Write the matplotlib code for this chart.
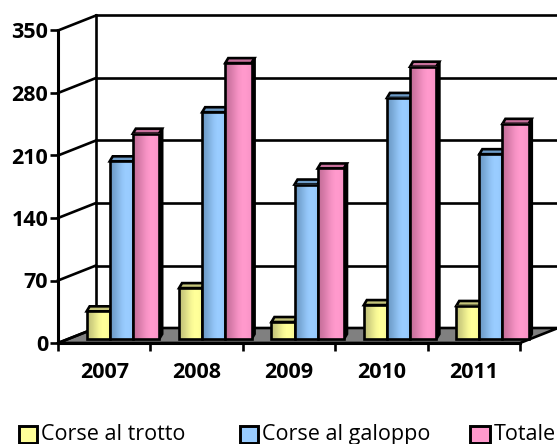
import numpy as np
import matplotlib
matplotlib.use("Agg")
import matplotlib.pyplot as plt
from matplotlib.colors import LinearSegmentedColormap
from matplotlib.patches import Polygon, Rectangle
from matplotlib.transforms import Affine2D

years = ["2007", "2008", "2009", "2010", "2011"]
trotto = [31, 57, 19, 38, 37]
galoppo = [199, 254, 173, 270, 207]
totale = [230, 309, 191, 305, 241]
series_names = ["Corse al trotto", "Corse al galoppo", "Totale"]
yticks = [0, 70, 140, 210, 280, 350]

W, H = 557, 444
FONT = "Open Sans"
LW = 1.9
dark = ["#C4C47A", "#6E9CC8", "#C8709C"]
light = ["#FFFF99", "#99CCFF", "#FF99CC"]

fig = plt.figure(figsize=(W / 100, H / 100), dpi=100, facecolor="white")
X0, X1, Y0, Y1 = 58, 520, 343, 30.5
ax = fig.add_axes([X0 / W, 1 - Y0 / H, (X1 - X0) / W, (Y0 - Y1) / H])
ax.set_xlim(0, 5)
ax.set_ylim(0, 350)
ax.patch.set_alpha(0)
for s in ax.spines.values():
    s.set_visible(False)

DX, DY = 38, 15
def shifted(dx, dy):
    return ax.transData + Affine2D().translate(dx, dy)
back = shifted(DX, DY)

# floor
p0 = ax.transData.transform((0, 0))
p1 = ax.transData.transform((5, 0))
ax.add_artist(Polygon([p0, p0 + (DX, DY), p1 + (DX, DY), p1], closed=True, transform=None,
                      facecolor="#808080", edgecolor="black", lw=LW, zorder=0.5, clip_on=False))
# walls and gridlines
for v in yticks:
    if v > 0:
        ax.plot([0, 5], [v, v], color="black", lw=LW, transform=back, clip_on=False, zorder=1)
    q = ax.transData.transform((0, v))
    ax.add_artist(plt.Line2D([q[0], q[0] + DX], [q[1], q[1] + DY], transform=None,
                             color="black", lw=LW, zorder=1, clip_on=False))
ax.plot([0, 0], [0, 350], color="black", lw=LW, transform=back, clip_on=False, zorder=1)
ax.plot([0, 0], [0, 350], color="black", lw=LW + 0.3, clip_on=False, zorder=1)
ax.plot([0, 5], [0, 0], color="black", lw=LW + 0.3, clip_on=False, zorder=8)

# bars
widths = [0.25, 0.25, 0.285]
offsets = [0.31, 0.56, 0.81]
BX, BY = 0, 4      # bars stand slightly behind the front edge of the floor
TX, TY = 3, 5      # depth of each bar
grad_vals = np.array([[0, .25, .55, .85, 1.0, 1.0, .9]])
tr = shifted(BX, BY)
for k, vals in enumerate([trotto, galoppo, totale]):
    cm2 = LinearSegmentedColormap.from_list("g2", [dark[k], light[k]])
    width = widths[k]
    for i, v in enumerate(vals):
        left = i + offsets[k]
        z = 3 + k
        a = ax.transData.transform((left, v)) + (BX, BY)
        b = ax.transData.transform((left + width, v)) + (BX, BY)
        c = ax.transData.transform((left + width, 0)) + (BX, BY)
        ax.add_artist(Polygon([a, b, b + (TX, TY), a + (TX, TY)], closed=True, transform=None,
                              facecolor=dark[k], edgecolor="black", lw=LW, zorder=z, clip_on=False))
        ax.add_artist(Polygon([b, b + (TX, TY), c + (TX, TY), c], closed=True, transform=None,
                              facecolor="black", edgecolor="black", lw=LW, zorder=z, clip_on=False))
        im = ax.imshow(grad_vals, cmap=cm2, vmin=0, vmax=1, aspect="auto",
                       extent=(left, left + width, 0, v), interpolation="bilinear",
                       zorder=z + 0.1, clip_on=False)
        im.set_transform(tr)
        ax.bar(left, v, width, align="edge", facecolor="none", edgecolor="black",
               lw=LW, transform=tr, zorder=z + 0.2, clip_on=False)
ax.set_xlim(0, 5)
ax.set_ylim(0, 350)
ax.set_aspect("auto")

# ticks
ax.set_xticks(range(6))
ax.set_xticklabels([])
ax.set_yticks(yticks)
ax.set_yticklabels([str(v) for v in yticks], fontfamily=FONT, fontsize=15.5,
                   fontweight="bold", color="black")
ax.tick_params(axis="y", length=6, width=LW, pad=1, color="black")
ax.tick_params(axis="x", length=6, width=LW, color="black")
for i, y in enumerate(years):
    ax.text(i + 0.5, 0, y, transform=ax.get_xaxis_transform() + Affine2D().translate(0, -29),
            ha="center", va="center", fontfamily=FONT, fontsize=15.5, fontweight="bold",
            clip_on=False)

# legend
swatches = [19, 240, 470]
sw = [18, 18, 20]
for k, name in enumerate(series_names):
    fig.add_artist(Rectangle((swatches[k] / W, 1 - 443 / H), sw[k] / W, 17 / H,
                             transform=fig.transFigure, facecolor=light[k],
                             edgecolor="black", lw=LW + 0.2))
    fig.text((swatches[k] + sw[k] + 4) / W, 1 - 434 / H, name, ha="left", va="center",
             fontfamily=FONT, fontsize=15.5)

fig.savefig("out.png", dpi=100)
